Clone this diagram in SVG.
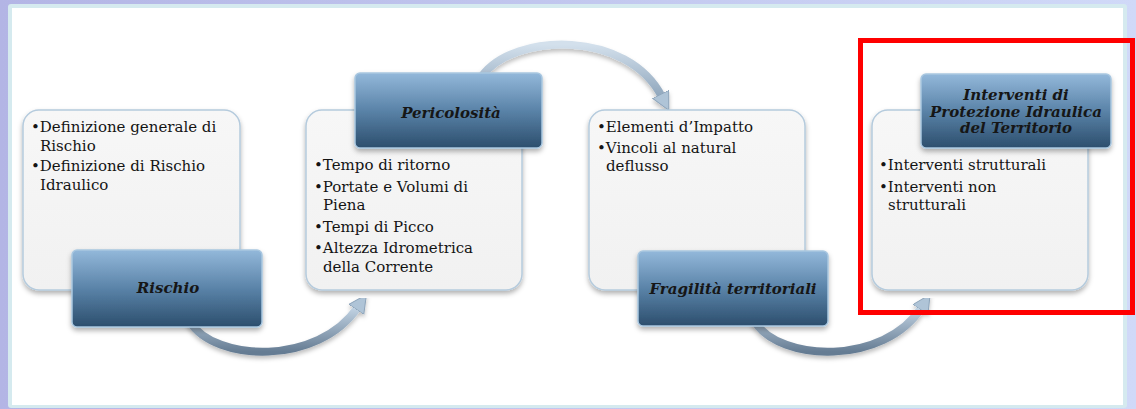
<svg xmlns="http://www.w3.org/2000/svg" width="1136" height="409" viewBox="0 0 1136 409">
<style>
.body{font-family:"DejaVu Serif","Liberation Serif",serif;font-size:15px;fill:#141414}
.ttl{font-family:"DejaVu Serif","Liberation Serif",serif;font-size:15px;font-weight:bold;font-style:italic;fill:#161616;text-anchor:middle}
.lb{fill:url(#lg);stroke:#b5cbdd;stroke-width:1.5;filter:url(#sh)}
.tb{fill:url(#tg);stroke:#a9c7e0;stroke-width:1.5;filter:url(#sh)}
.arr{fill:none;stroke-width:8;stroke-linecap:round;filter:url(#ash);marker-end:url(#ah)}
</style>
<defs>
<linearGradient id="bg" x1="0" y1="0" x2="1" y2="0">
<stop offset="0" stop-color="#b3b5e5"/><stop offset="1" stop-color="#d0d9f8"/>
</linearGradient>
<linearGradient id="lg" x1="0" y1="0" x2="0" y2="1">
<stop offset="0" stop-color="#f7f7f7"/><stop offset="1" stop-color="#f1f1f1"/>
</linearGradient>
<linearGradient id="tg" x1="0" y1="0" x2="0" y2="1">
<stop offset="0" stop-color="#93b8da"/><stop offset="0.5" stop-color="#5a83a8"/><stop offset="1" stop-color="#2c4e6d"/>
</linearGradient>
<linearGradient id="ag" x1="0" y1="0" x2="0" y2="1">
<stop offset="0" stop-color="#c3d4e4"/><stop offset="1" stop-color="#657c93"/>
</linearGradient>
<linearGradient id="ag2" x1="0" y1="0" x2="0" y2="1">
<stop offset="0" stop-color="#d3e0ec"/><stop offset="1" stop-color="#8fa6bc"/>
</linearGradient>
<filter id="sh" x="-10%" y="-10%" width="120%" height="130%">
<feDropShadow dx="0" dy="3" stdDeviation="2.5" flood-color="#000" flood-opacity="0.3"/>
</filter>
<filter id="ash" x="-10%" y="-20%" width="120%" height="150%">
<feDropShadow dx="0" dy="3" stdDeviation="2" flood-color="#000" flood-opacity="0.25"/>
</filter>
<marker id="ah" markerUnits="userSpaceOnUse" markerWidth="20" markerHeight="20" refX="3" refY="9" orient="auto">
<path d="M0,0 L18,9 L0,18 Z" fill="#afc4d7" stroke="#8da4ba" stroke-width="1"/>
</marker>
</defs>

<rect x="0" y="0" width="1136" height="409" fill="url(#bg)"/>
<rect x="8" y="4" width="1119" height="404" rx="3" fill="#d5eaef"/>
<rect x="12" y="8" width="1111" height="397" fill="#ffffff"/>

<g id="connectors">
<path class="arr" stroke="url(#ag)" d="M190,322 C215,362 318,366 358,307"/>
<path class="arr" stroke="url(#ag2)" d="M482,76 C515,32 628,30 662,97"/>
<path class="arr" stroke="url(#ag)" d="M755,322 C780,362 884,366 922,307"/>
</g>

<g id="node-rischio">
<rect class="lb" x="23" y="110" width="217" height="180" rx="16"/>
<text class="body" x="31" y="132">•Definizione generale di</text>
<text class="body" x="40" y="151">Rischio</text>
<text class="body" x="31" y="171">•Definizione di Rischio</text>
<text class="body" x="40" y="190">Idraulico</text>
<rect class="tb" x="72" y="250" width="190" height="77" rx="5"/>
<text class="ttl" x="168" y="293">Rischio</text>
</g>

<g id="node-pericolosita">
<rect class="lb" x="306" y="110" width="216" height="180" rx="16"/>
<rect class="tb" x="355" y="73" width="187" height="75" rx="5"/>
<text class="ttl" x="451" y="118">Pericolosità</text>
<text class="body" x="314" y="170">•Tempo di ritorno</text>
<text class="body" x="314" y="192">•Portate e Volumi di</text>
<text class="body" x="323" y="210">Piena</text>
<text class="body" x="314" y="232">•Tempi di Picco</text>
<text class="body" x="314" y="253">•Altezza Idrometrica</text>
<text class="body" x="323" y="272">della Corrente</text>
</g>

<g id="node-fragilita">
<rect class="lb" x="589" y="110" width="216" height="180" rx="16"/>
<text class="body" x="597" y="132">•Elementi d’Impatto</text>
<text class="body" x="597" y="153">•Vincoli al natural</text>
<text class="body" x="606" y="171">deflusso</text>
<rect class="tb" x="638" y="251" width="190" height="75" rx="5"/>
<text class="ttl" x="733" y="294">Fragilità territoriali</text>
</g>

<g id="node-interventi">
<rect class="lb" x="872" y="110" width="216" height="180" rx="16"/>
<rect class="tb" x="921" y="74" width="190" height="74" rx="5"/>
<text class="ttl" x="1016" y="100">Interventi di</text>
<text class="ttl" x="1016" y="117">Protezione Idraulica</text>
<text class="ttl" x="1016" y="133">del Territorio</text>
<text class="body" x="879" y="170">•Interventi strutturali</text>
<text class="body" x="879" y="192">•Interventi non</text>
<text class="body" x="888" y="210">strutturali</text>
</g>

<rect id="highlight" x="860.5" y="40.5" width="272" height="272" fill="none" stroke="#ff0000" stroke-width="5"/>
</svg>
